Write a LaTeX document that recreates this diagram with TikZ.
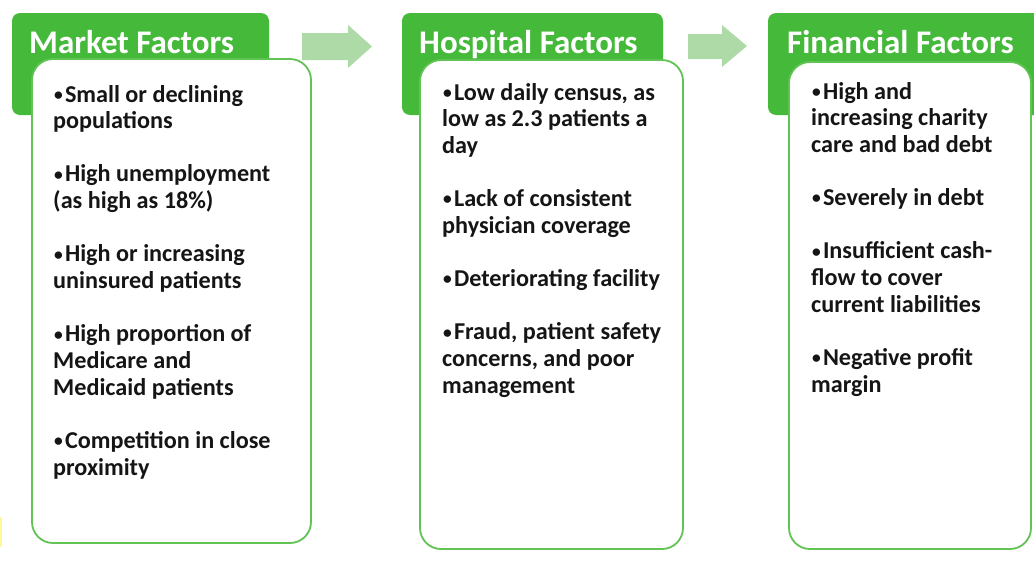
\documentclass[tikz,border=0pt]{standalone}
\usepackage{fontspec}
\usepackage{graphicx}
\setmainfont{Carlito}
\definecolor{hdrgreen}{HTML}{45BA3A}
\definecolor{bordergreen}{HTML}{62C355}
\definecolor{arrowgreen}{HTML}{AEDAA8}
\definecolor{txt}{HTML}{151515}
\newcommand{\itemlines}[1]{\begin{tabular}[t]{@{}l@{}}#1\end{tabular}}
\newcommand{\bul}{\hspace{0.04em}\raisebox{0.07em}{\scalebox{0.72}{•}}\hspace{0.09em}}
\tikzset{
  header/.style={fill=hdrgreen, draw=none, rounded corners=8pt},
  card/.style={fill=white, draw=bordergreen, line width=1.8pt, rounded corners=21pt},
  htext/.style={anchor=base west, inner sep=0pt, text=white, font=\bfseries\fontsize{33}{34}\selectfont},
  btext/.style={anchor=base west, inner sep=0pt, text=txt, font=\bfseries\fontsize{24.2}{26.65}\selectfont},
  blockarrow/.style={fill=arrowgreen, draw=none},
}
\begin{document}
\begin{tikzpicture}[x=1pt,y=-1pt]
\useasboundingbox (0,0) rectangle (1034,560);
\clip (0,0) rectangle (1034,560);
\fill[white] (0,0) rectangle (1034,560);
% tiny yellow sliver at left edge
\fill[yellow!40!white] (0,517) rectangle (2,547);
% headers
\path[header] (12,13) rectangle (269,115);
\path[header] (402,13) rectangle (663,115);
\path[header] (768,13) rectangle (1050,115);
% block arrows
\path[blockarrow] (302,33) -- (348,33) -- (348,25) -- (372,46.5) -- (348,68) -- (348,60) -- (302,60) -- cycle;
\path[blockarrow] (688,34) -- (722,34) -- (722,25) -- (747,46) -- (722,67) -- (722,59) -- (688,59) -- cycle;
% cards
\path[card] (32,59) rectangle (311,543);
\path[card] (420,60) rectangle (683,549);
\path[card] (789,62) rectangle (1031,549);
% header texts
\node[htext] (mh) at (29,53) {Market Factors};
\node[htext] (hh) at (419,53) {Hospital Factors};
\node[htext] (fh) at (787,53) {Financial Factors};
% body texts
\node[btext] (mt) at (53,102) {\itemlines{\bul Small or declining\\populations\\ \\\bul High unemployment\\(as high as 18\%)\\ \\\bul High or increasing\\uninsured patients\\ \\\bul High proportion of\\Medicare and\\Medicaid patients\\ \\\bul Competition in close\\proximity}};
\node[btext] (ht) at (442,100) {\itemlines{\bul Low daily census, as\\low as 2.3 patients a\\day\\ \\\bul Lack of consistent\\physician coverage\\ \\\bul Deteriorating facility\\ \\\bul Fraud, patient safety\\concerns, and poor\\management}};
\node[btext] (ft) at (811,99) {\itemlines{\bul High and\\increasing charity\\care and bad debt\\ \\\bul Severely in debt\\ \\\bul Insufficient cash-\\flow to cover\\current liabilities\\ \\\bul Negative profit\\margin}};
\end{tikzpicture}
\end{document}
